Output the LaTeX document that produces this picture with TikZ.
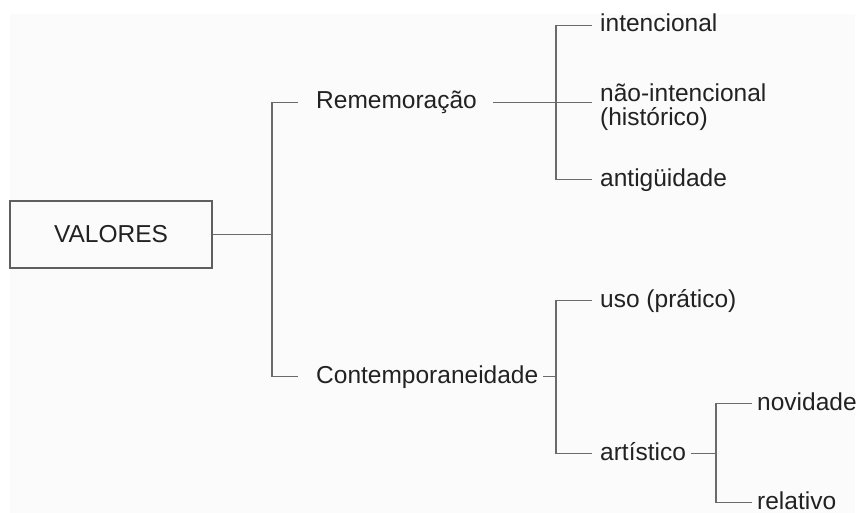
\documentclass[tikz,border=0pt]{standalone}
\usepackage{fontspec}
\setmainfont{Liberation Sans}
\definecolor{txt}{HTML}{222222}
\definecolor{ln}{HTML}{6A6A6A}
\definecolor{bg}{HTML}{FBFBFB}
\begin{document}
\begin{tikzpicture}[x=1pt,y=-1pt,
  lbl/.style={anchor=base west,inner sep=0pt,text=txt,font=\fontsize{24.5}{24.5}\selectfont,text height=17.5pt,text depth=5pt},
  conn/.style={draw=ln,line width=1.1pt},
  rootbox/.style={draw=ln!90!black,line width=1.1pt,minimum width=202pt,minimum height=67pt,inner sep=0pt,text=txt,font=\fontsize{24.5}{24.5}\selectfont}]
\useasboundingbox (0,0) rectangle (858,513);
\fill[bg] (10,14) rectangle (855,513);
% nodes
\node[rootbox] (valores) at (111,234.5) {VALORES};
\node[lbl] (rem) at (316,109) {Rememoração};
\node[lbl] (con) at (316,383) {Contemporaneidade};
\node[lbl] (int) at (600,32) {intencional};
\node[anchor=base west,inner sep=0pt,text=txt,align=left,font=\fontsize{24.5}{24}\selectfont] (nint) at (600,126) {não-intencional\\(histórico)};
\node[lbl] (ant) at (600,186) {antigüidade};
\node[lbl] (uso) at (600,307) {uso (prático)};
\node[lbl] (art) at (600,460) {artístico};
\node[lbl] (nov) at (757,410) {novidade};
\node[lbl] (rel) at (757,509) {relativo};
% connectors
\coordinate (j1) at (272,236);
\draw[conn] (valores.east) -- (j1 |- valores.east);
\draw[conn] ([xshift=-18pt]rem.west) -| (j1) |- ([xshift=-18pt]con.west);
\draw[conn] ([xshift=16pt]rem.east) -- ([xshift=-8pt]rem.east -| nint.west);
\draw[conn] ([xshift=-8pt]int.west) -| ([xshift=-44pt]ant.west) -- ([xshift=-8pt]ant.west);
\draw[conn] ([xshift=5pt]con.east) -- ([xshift=-44pt]con.east -| uso.west);
\draw[conn] ([xshift=-8pt]uso.west) -| ([xshift=-44pt]art.west) -- ([xshift=-8pt]art.west);
\draw[conn] ([xshift=5pt]art.east) -- ([xshift=-41pt]art.east -| nov.west);
\draw[conn] ([xshift=-5pt]nov.west) -| ([xshift=-41pt]rel.west) -- ([xshift=-5pt]rel.west);
\end{tikzpicture}
\end{document}
